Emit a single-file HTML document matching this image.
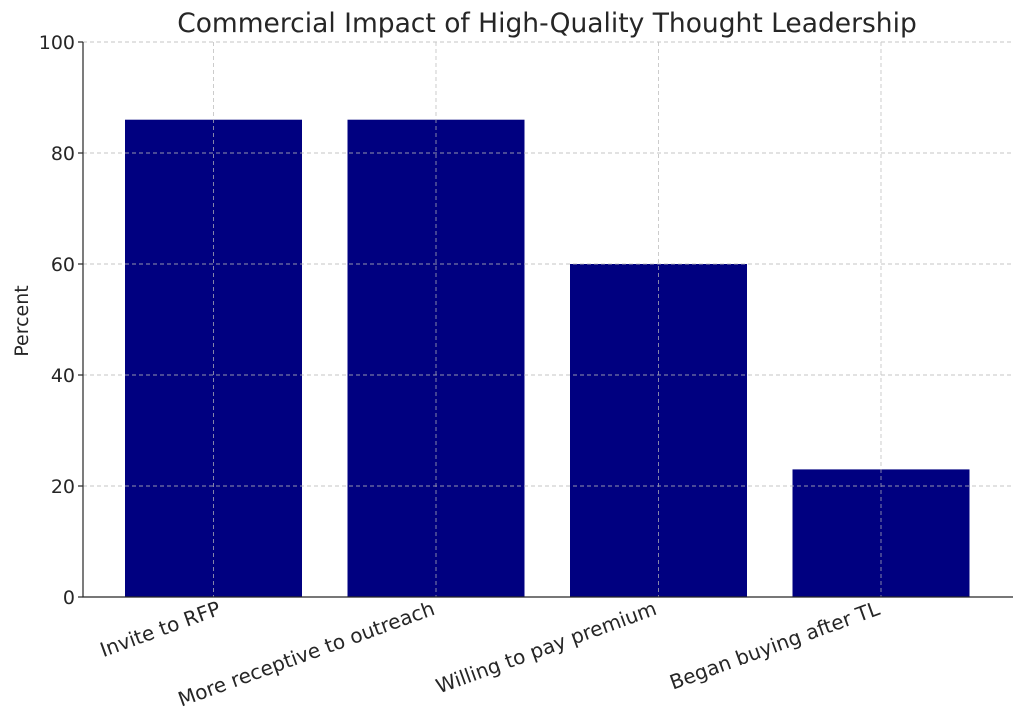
<!DOCTYPE html>
<html><head><style>body{margin:0;background:#fff}svg{display:block}text{font-family:"DejaVu Sans","Liberation Sans",sans-serif;fill:#262626}</style></head><body>
<svg width="1024" height="726" viewBox="0 0 1024 726">
<text x="547" y="32" font-size="26.5" text-anchor="middle" fill="#3a3a3a">Commercial Impact of High-Quality Thought Leadership</text>
<g fill="#000080">
<rect x="125" y="119.7" width="177" height="477.3"/>
<rect x="347.5" y="119.7" width="177" height="477.3"/>
<rect x="570" y="264" width="177" height="333"/>
<rect x="792.5" y="469.4" width="177" height="127.6"/>
</g>
<g stroke="#b8b8b8" stroke-width="0.9" stroke-dasharray="4,3" opacity="0.8">
<line x1="83" y1="42" x2="1013" y2="42"/><line x1="83" y1="153" x2="1013" y2="153"/><line x1="83" y1="264" x2="1013" y2="264"/><line x1="83" y1="375" x2="1013" y2="375"/><line x1="83" y1="486" x2="1013" y2="486"/>
<line x1="213.5" y1="42" x2="213.5" y2="597"/><line x1="436" y1="42" x2="436" y2="597"/><line x1="658.5" y1="42" x2="658.5" y2="597"/><line x1="881" y1="42" x2="881" y2="597"/>
</g>
<g stroke="#262626" stroke-width="1.2">
<line x1="83" y1="42" x2="83" y2="597.5"/><line x1="82.5" y1="597" x2="1013" y2="597"/>
<line x1="78" y1="42" x2="83" y2="42"/><line x1="78" y1="153" x2="83" y2="153"/><line x1="78" y1="264" x2="83" y2="264"/><line x1="78" y1="375" x2="83" y2="375"/><line x1="78" y1="486" x2="83" y2="486"/><line x1="78" y1="597" x2="83" y2="597"/>
</g>
<g font-size="19" text-anchor="end">
<text x="75" y="49">100</text><text x="75" y="160">80</text><text x="75" y="271">60</text><text x="75" y="382">40</text><text x="75" y="493">20</text><text x="75" y="604">0</text>
</g>
<text transform="translate(28,321) rotate(-90)" font-size="19" text-anchor="middle">Percent</text>
<g font-size="20" text-anchor="end">
<text transform="translate(222,614) rotate(-20)">Invite to RFP</text>
<text transform="translate(436,614) rotate(-20)">More receptive to outreach</text>
<text transform="translate(658,614) rotate(-20)">Willing to pay premium</text>
<text transform="translate(881,614) rotate(-20)">Began buying after TL</text>
</g>
</svg>
</body></html>
